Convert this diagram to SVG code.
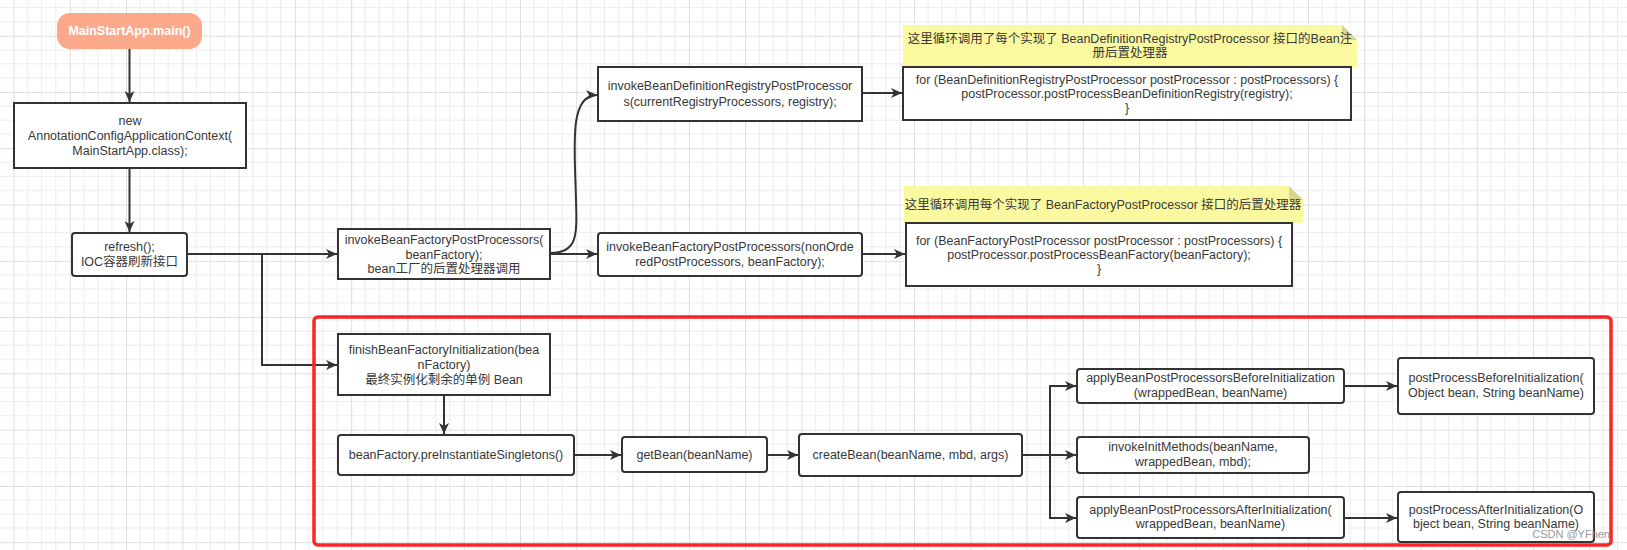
<svg xmlns="http://www.w3.org/2000/svg" width="1627" height="550" viewBox="0 0 1627 550">
<defs>
<pattern id="grid" width="56.28" height="56.28" patternUnits="userSpaceOnUse" x="13.5" y="35.7">
<path d="M14.07 0V56.28M28.14 0V56.28M42.21 0V56.28M0 14.07H56.28M0 28.14H56.28M0 42.21H56.28" stroke="#ececec" stroke-width="1" fill="none"/>
<path d="M0.5 0V56.28M0 0.5H56.28" stroke="#dedede" stroke-width="1" fill="none"/>
</pattern>
<marker id="arr" markerWidth="12" markerHeight="10" refX="11" refY="5" orient="auto" markerUnits="userSpaceOnUse">
<path d="M0,0 L11,5 L0,10 L3,5 Z" fill="#333"/>
</marker>
<style>
.box{fill:#fff;stroke:#333;stroke-width:2}
.t{font-family:"Liberation Sans","Noto Sans CJK SC",sans-serif;font-size:12.5px;fill:#383838;text-anchor:middle;dominant-baseline:central}
.note{fill:#fbf9a0}
.fold{fill:#d8d68c}
.c{fill:none;stroke:#333;stroke-width:2;marker-end:url(#arr)}
</style>
</defs>
<rect width="1627" height="550" fill="#fff"/>
<rect width="1627" height="550" fill="url(#grid)"/>

<g id="connectors">
<path class="c" d="M129.5,49 V102"/>
<path class="c" d="M129.5,168 V232"/>
<path class="c" d="M187,254 H337"/>
<path class="c" d="M262,254 V365 H337"/>
<path class="c" d="M550,253 C578,253 577,235 576,200 C575,150 568,95 597,95"/>
<path class="c" d="M550,254 H597"/>
<path class="c" d="M862,93 H902"/>
<path class="c" d="M862,254 H905"/>
<path class="c" d="M444,395 V434"/>
<path class="c" d="M574,455 H621"/>
<path class="c" d="M767,455 H798"/>
<path class="c" d="M1022,455 H1050 V386 H1076"/>
<path class="c" d="M1022,455 H1076"/>
<path class="c" d="M1050,455 V518 H1076"/>
<path class="c" d="M1344,386 H1397"/>
<path class="c" d="M1344,518 H1397"/>
</g>

<g id="main">
<rect x="57" y="13" width="145" height="36" rx="13" fill="#fca98b"/>
<text class="t" x="129.5" y="31" style="fill:#fff;font-weight:bold">MainStartApp.main()</text>
</g>

<g id="newContext">
<rect class="box" x="14" y="103" width="232" height="65"/>
<text class="t" x="130" y="121">new</text>
<text class="t" x="130" y="136">AnnotationConfigApplicationContext(</text>
<text class="t" x="130" y="151">MainStartApp.class);</text>
</g>

<g id="refresh">
<rect class="box" x="72" y="233" width="115" height="43" rx="3"/>
<text class="t" x="129.5" y="247">refresh();</text>
<text class="t" x="129.5" y="262">IOC容器刷新接口</text>
</g>

<g id="invokeBFPP">
<rect class="box" x="338" y="229" width="212" height="50"/>
<text class="t" x="444" y="240">invokeBeanFactoryPostProcessors(</text>
<text class="t" x="444" y="255">beanFactory);</text>
<text class="t" x="444" y="269">bean工厂的后置处理器调用</text>
</g>

<g id="invokeBDRPP">
<rect class="box" x="598" y="67" width="264" height="54"/>
<text class="t" x="730" y="86">invokeBeanDefinitionRegistryPostProcessor</text>
<text class="t" x="730" y="102">s(currentRegistryProcessors, registry);</text>
</g>

<g id="invokeNonOrdered">
<rect class="box" x="598" y="233" width="264" height="43" rx="3"/>
<text class="t" x="730" y="247">invokeBeanFactoryPostProcessors(nonOrde</text>
<text class="t" x="730" y="262">redPostProcessors, beanFactory);</text>
</g>

<g id="note1">
<path class="note" d="M903,25 H1342 L1357,40 V67 H903 Z"/>
<path class="fold" d="M1342,25 V40 H1357 Z"/>
<text class="t" x="1130" y="39">这里循环调用了每个实现了 BeanDefinitionRegistryPostProcessor 接口的Bean注</text>
<text class="t" x="1130" y="53">册后置处理器</text>
</g>

<g id="code1">
<rect class="box" x="903" y="67" width="448" height="53"/>
<text class="t" x="1127" y="80">for (BeanDefinitionRegistryPostProcessor postProcessor : postProcessors) {</text>
<text class="t" x="1127" y="94">postProcessor.postProcessBeanDefinitionRegistry(registry);</text>
<text class="t" x="1127" y="108">}</text>
</g>

<g id="note2">
<path class="note" d="M904,186 H1289 L1303,200 V223 H904 Z"/>
<path class="fold" d="M1289,186 V200 H1303 Z"/>
<text class="t" x="1103" y="205">这里循环调用每个实现了 BeanFactoryPostProcessor 接口的后置处理器</text>
</g>

<g id="code2">
<rect class="box" x="906" y="223" width="386" height="63"/>
<text class="t" x="1099" y="241">for (BeanFactoryPostProcessor postProcessor : postProcessors) {</text>
<text class="t" x="1099" y="255">postProcessor.postProcessBeanFactory(beanFactory);</text>
<text class="t" x="1099" y="269">}</text>
</g>

<g id="highlight">
<rect x="314" y="317" width="1297" height="228" rx="4" fill="none" stroke="#ff2424" stroke-width="3.5"/>
</g>

<g id="finish">
<rect class="box" x="338" y="334" width="212" height="61"/>
<text class="t" x="444" y="350">finishBeanFactoryInitialization(bea</text>
<text class="t" x="444" y="365">nFactory)</text>
<text class="t" x="444" y="380">最终实例化剩余的单例 Bean</text>
</g>

<g id="preInst">
<rect class="box" x="338" y="435" width="236" height="40" rx="3"/>
<text class="t" x="456" y="455">beanFactory.preInstantiateSingletons()</text>
</g>

<g id="getBean">
<rect class="box" x="622" y="437" width="145" height="35" rx="3"/>
<text class="t" x="694.5" y="455">getBean(beanName)</text>
</g>

<g id="createBean">
<rect class="box" x="799" y="434" width="223" height="42" rx="3"/>
<text class="t" x="910.5" y="455">createBean(beanName, mbd, args)</text>
</g>

<g id="applyBefore">
<rect class="box" x="1077" y="369" width="267" height="34" rx="3"/>
<text class="t" x="1210.5" y="378">applyBeanPostProcessorsBeforeInitialization</text>
<text class="t" x="1210.5" y="393">(wrappedBean, beanName)</text>
</g>

<g id="invokeInit">
<rect class="box" x="1077" y="437" width="232" height="36" rx="3"/>
<text class="t" x="1193" y="447">invokeInitMethods(beanName,</text>
<text class="t" x="1193" y="462">wrappedBean, mbd);</text>
</g>

<g id="applyAfter">
<rect class="box" x="1077" y="497" width="267" height="41" rx="3"/>
<text class="t" x="1210.5" y="510">applyBeanPostProcessorsAfterInitialization(</text>
<text class="t" x="1210.5" y="524">wrappedBean, beanName)</text>
</g>

<g id="postBefore">
<rect class="box" x="1398" y="358" width="196" height="56" rx="3"/>
<text class="t" x="1496" y="378">postProcessBeforeInitialization(</text>
<text class="t" x="1496" y="393">Object bean, String beanName)</text>
</g>

<g id="postAfter">
<rect class="box" x="1398" y="492" width="196" height="50" rx="3"/>
<text class="t" x="1496" y="510">postProcessAfterInitialization(O</text>
<text class="t" x="1496" y="524">bject bean, String beanName)</text>
</g>

<text x="1610" y="538" style="font-family:'Liberation Sans',sans-serif;font-size:11px;fill:#9a9a9a;text-anchor:end">CSDN @YFhen</text>
</svg>
